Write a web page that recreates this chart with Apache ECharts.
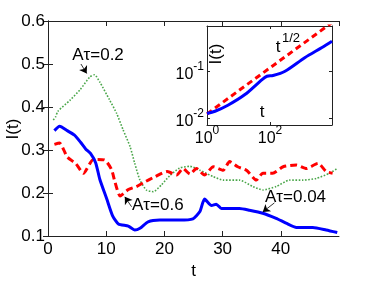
<!DOCTYPE html>
<html><head><meta charset="utf-8">
<script src="https://cdn.jsdelivr.net/npm/echarts@6/dist/echarts.min.js"></script>
<style>html,body{margin:0;padding:0;background:#fff}#c{width:374px;height:281px}</style>
</head><body><div id="c"></div>
<script>
// ---- main panel data ----
const tBlue = [1.1,2.0,3.3,4.5,5.6,6.5,7.3,8.2,8.9,10.1,11.1,12.1,13.8,14.9,15.8,17.2,19.2,22.6,24.9,26.1,26.9,28.1,28.9,29.8,31.2,32.9,34.6,36.9,39.2,40.9,42.7,45.5,47.8,49.7];
const vBlue = [0.345,0.355,0.345,0.335,0.318,0.302,0.292,0.270,0.232,0.186,0.147,0.128,0.123,0.114,0.118,0.133,0.137,0.137,0.140,0.157,0.186,0.171,0.174,0.164,0.164,0.164,0.160,0.153,0.141,0.130,0.120,0.120,0.114,0.108];
const tRed = [1.1,2.0,3.3,4.8,6.1,7.8,9.7,10.9,11.5,12.4,13.8,15.2,16.4,18.4,20.5,22.1,23.2,24.4,25.5,26.9,28.4,30.1,31.2,32.6,34.1,35.8,36.9,38.6,40.4,42.7,44.4,46.4,47.8,48.9];
const vRed = [0.313,0.316,0.284,0.268,0.246,0.278,0.277,0.255,0.226,0.193,0.208,0.215,0.224,0.238,0.250,0.242,0.257,0.244,0.257,0.242,0.261,0.253,0.273,0.261,0.253,0.230,0.246,0.246,0.261,0.265,0.257,0.269,0.250,0.246];
const tGreen = [0.9,1.3,1.7,3.8,5.5,7.2,8.0,8.9,10.6,11.8,12.9,14.1,14.9,15.8,16.9,18.1,19.5,20.9,22.6,24.4,26.1,28.4,30.1,32.9,35.2,36.9,39.2,41.5,43.8,46.1,48.4,49.7];
const vGreen = [0.370,0.377,0.390,0.416,0.440,0.470,0.475,0.458,0.416,0.385,0.347,0.308,0.269,0.230,0.207,0.203,0.219,0.240,0.258,0.262,0.253,0.238,0.230,0.230,0.215,0.207,0.215,0.230,0.230,0.234,0.246,0.257];
const xTicks = [0,10,20,30,40];
const yTicks = [0.1,0.2,0.3,0.4,0.5,0.6];
// ---- inset data (log-log) ----
const tInBlue = [1,1.8,4.6,16,56,80,125,300,1300,4470,9300];
const vInBlue = [0.0128,0.0143,0.0192,0.0324,0.0676,0.0794,0.0822,0.1015,0.199,0.324,0.442];
const tInRed = [1,10,100,1000,9300];
const vInRed = [0.0125,0.039,0.12,0.37,1.1];
const insetXExp = [0,2];
const insetYExp = [-2,-1];
// ---- annotations ----
const labels = ['A\u03c4=0.2','A\u03c4=0.6','A\u03c4=0.04'];
const arrowFrom = [[5.66,0.50],[14.36,0.168],[38.9,0.177]];
const arrowTo = [[6.65,0.478],[13.2,0.191],[36.9,0.156]];

const zip = (a,b)=>a.map((x,i)=>[x,b[i]]);
const F = 'Liberation Sans, Arial, sans-serif';
const FS = 17;
const axisCol = '#222';
const chart = echarts.init(document.getElementById('c'), null, {renderer:'canvas'});

function isExp(v, list){
  const e = Math.log10(v); const r = Math.round(e);
  return Math.abs(e-r) < 1e-6 && list.indexOf(r) >= 0 ? r : null;
}
const rich = {
  b:{fontFamily:F,fontSize:16,lineHeight:22,verticalAlign:'bottom',color:'#000'},
  s:{fontFamily:F,fontSize:12,lineHeight:12,verticalAlign:'top',color:'#000'}
};
function arrow(i){
  return {silent:true,symbol:['none','arrow'],symbolSize:7,animation:false,
    label:{show:false},lineStyle:{color:'#000',width:0.8,type:'solid'},
    data:[[{coord:arrowFrom[i]},{coord:arrowTo[i]}]]};
}
const baseAxis = {axisLine:{show:true,lineStyle:{color:axisCol,width:1}},splitLine:{show:false}};

const option = {
  animation:false,
  backgroundColor:'#fff',
  grid:[
    {left:48,top:21,right:35,bottom:45,outerBoundsMode:'none',containLabel:false},
    {left:207,top:26,width:125,height:99,show:true,backgroundColor:'#fff',borderWidth:0,outerBoundsMode:'none',containLabel:false}
  ],
  xAxis:[
    Object.assign({},baseAxis,{gridIndex:0,type:'value',min:0,max:50,interval:10,position:'bottom',
      name:'t',nameLocation:'middle',nameGap:24,nameTextStyle:{fontFamily:F,fontSize:FS,color:'#000'},
      axisTick:{inside:true,length:5,lineStyle:{color:axisCol}},
      axisLabel:{fontFamily:F,fontSize:FS,color:'#000',margin:5,showMaxLabel:false,
        formatter:v=>xTicks.indexOf(v)>=0?String(v):''}}),
    Object.assign({},baseAxis,{gridIndex:0,type:'value',min:0,max:50,interval:10,position:'top',
      axisTick:{inside:true,length:5,lineStyle:{color:axisCol}},axisLabel:{show:false}}),
    Object.assign({},baseAxis,{gridIndex:1,type:'log',logBase:10,min:1,max:9300,interval:2,position:'bottom',
      axisTick:{inside:true,length:3,lineStyle:{color:axisCol}},
      axisLabel:{margin:0,rich:rich,showMaxLabel:false,formatter:v=>{const e=isExp(v,insetXExp);return e===null?'':'{b|10}{s|'+e+'}';}}}),
    Object.assign({},baseAxis,{gridIndex:1,type:'log',logBase:10,min:1,max:9300,interval:2,position:'top',
      axisTick:{inside:true,length:3,lineStyle:{color:axisCol}},axisLabel:{show:false}})
  ],
  yAxis:[
    Object.assign({},baseAxis,{gridIndex:0,type:'value',min:0.1,max:0.6,interval:0.1,position:'left',
      axisTick:{inside:true,length:5,lineStyle:{color:axisCol}},
      axisLabel:{fontFamily:F,fontSize:FS,color:'#000',margin:3,formatter:v=>v.toFixed(1)}}),
    Object.assign({},baseAxis,{gridIndex:0,type:'value',min:0.1,max:0.6,interval:0.1,position:'right',
      axisTick:{inside:true,length:5,lineStyle:{color:axisCol}},axisLabel:{show:false}}),
    Object.assign({},baseAxis,{gridIndex:1,type:'log',logBase:10,min:0.0073,max:0.93,position:'left',
      axisTick:{inside:true,length:3,lineStyle:{color:axisCol}},
      axisLabel:{margin:3,rich:rich,formatter:v=>{const e=isExp(v,insetYExp);return e===null?'':'{b|10}{s|'+e+'}';}}}),
    Object.assign({},baseAxis,{gridIndex:1,type:'log',logBase:10,min:0.0073,max:0.93,position:'right',
      axisTick:{inside:true,length:3,lineStyle:{color:axisCol}},axisLabel:{show:false}})
  ],
  series:[
    {type:'line',xAxisIndex:0,yAxisIndex:0,data:zip(tGreen,vGreen),showSymbol:false,smooth:0.2,
      lineStyle:{color:'#4aa64a',width:1.6,type:[1.6,1.6]},markLine:arrow(0)},
    {type:'line',xAxisIndex:0,yAxisIndex:0,data:zip(tRed,vRed),showSymbol:false,smooth:0.2,
      lineStyle:{color:'#ff0000',width:3,type:[7,4]},markLine:arrow(1)},
    {type:'line',xAxisIndex:0,yAxisIndex:0,data:zip(tBlue,vBlue),showSymbol:false,smooth:0.2,
      lineStyle:{color:'#0000ff',width:3},markLine:arrow(2)},
    {type:'line',xAxisIndex:2,yAxisIndex:2,data:zip(tInRed,vInRed),showSymbol:false,
      lineStyle:{color:'#ff0000',width:3,type:[6,4]}},
    {type:'line',xAxisIndex:2,yAxisIndex:2,data:zip(tInBlue,vInBlue),showSymbol:false,smooth:0.3,
      lineStyle:{color:'#0000ff',width:3}}
  ],
  graphic:[
    {type:'text',style:{text:labels[0],x:98,y:55,font:FS+'px '+F,fill:'#000',textAlign:'center',textVerticalAlign:'middle'}},
    {type:'text',style:{text:labels[1],x:132,y:205,font:FS+'px '+F,fill:'#000',textAlign:'left',textVerticalAlign:'middle'}},
    {type:'text',style:{text:labels[2],x:265,y:197,font:FS+'px '+F,fill:'#000',textAlign:'left',textVerticalAlign:'middle'}},
    {type:'text',z:100,style:{text:'t',x:278,y:47,font:FS+'px '+F,fill:'#000',textAlign:'center',textVerticalAlign:'middle'}},
    {type:'text',z:100,style:{text:'1/2',x:282,y:38,font:'13px '+F,fill:'#000',textAlign:'left',textVerticalAlign:'middle'}},
    {type:'text',z:100,style:{text:'t',x:262,y:112,font:FS+'px '+F,fill:'#000',textAlign:'center',textVerticalAlign:'middle'}},
    {type:'text',z:100,x:216,y:54,rotation:Math.PI/2,style:{text:'I(t)',x:0,y:0,font:FS+'px '+F,fill:'#000',textAlign:'center',textVerticalAlign:'middle'}},
    {type:'text',z:100,x:13,y:129,rotation:Math.PI/2,style:{text:'I(t)',x:0,y:0,font:FS+'px '+F,fill:'#000',textAlign:'center',textVerticalAlign:'middle'}}
  ]
};
chart.setOption(option);
</script></body></html>
